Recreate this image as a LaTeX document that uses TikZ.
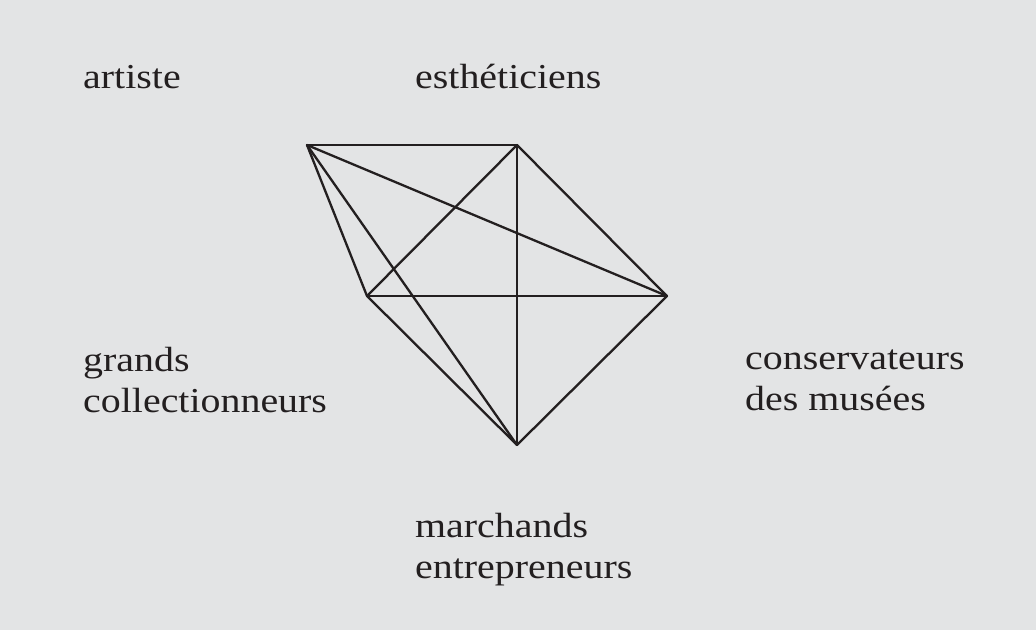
\documentclass[tikz,border=0pt]{standalone}
\usepackage{fontspec}
\setmainfont{Liberation Serif}[FakeStretch=1.14]
\definecolor{paper}{HTML}{E3E4E5}
\definecolor{ink}{HTML}{231F20}
\begin{document}
\begin{tikzpicture}[x=1pt, y=-1pt, line join=round, line cap=round,
	label/.style={anchor=base west, inner sep=0pt, align=left, text=ink,
		font=\fontsize{35}{41}\selectfont}]
	\fill[paper] (0,0) rectangle (1036,630);
	\path
	(307,145) coordinate (A)
	(517,145) coordinate (E)
	(667,296) coordinate (C)
	(367,296) coordinate (G)
	(517,445) coordinate (M);
	\foreach \p/\q in {A/E, A/C, A/G, A/M, E/G, E/C, E/M, G/C, G/M, C/M}
	\draw [ink, line width=2.3pt] (\p) -- (\q);
	
	% multi-line labels sit on the baseline of their last line
	\node[label] (artiste) at (83,88) {artiste};
	\node[label] (esth) at (415,88) {esthéticiens};
	\node[label] (coll) at (83,412) {grands\\collectionneurs};
	\node[label] (cons) at (745,410) {conservateurs\\des musées};
	\node[label] (march) at (415,578) {marchands\\entrepreneurs};
\end{tikzpicture}
\end{document}
